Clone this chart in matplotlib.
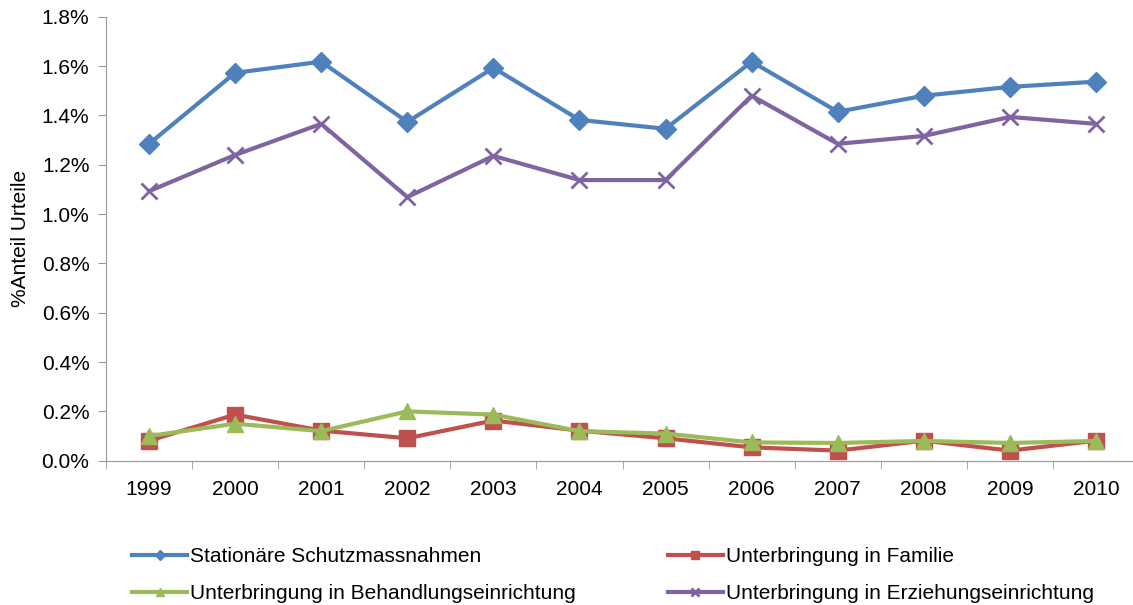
import numpy as np
import matplotlib.pyplot as plt
from matplotlib.ticker import FuncFormatter, MultipleLocator, FixedLocator

plt.rcParams['font.family'] = ['Liberation Sans', 'DejaVu Sans']

years = ['1999', '2000', '2001', '2002', '2003', '2004',
         '2005', '2006', '2007', '2008', '2009', '2010']

# Anteil Urteile in %
stationaer = [1.285, 1.573, 1.618, 1.374, 1.593, 1.382, 1.346, 1.618, 1.415, 1.480, 1.516, 1.537]
familie = [0.081, 0.187, 0.122, 0.091, 0.163, 0.122, 0.091, 0.054, 0.041, 0.081, 0.041, 0.081]
behandlung = [0.100, 0.150, 0.120, 0.200, 0.187, 0.120, 0.110, 0.074, 0.072, 0.080, 0.072, 0.080]
erziehung = [1.093, 1.240, 1.366, 1.069, 1.236, 1.138, 1.138, 1.480, 1.285, 1.317, 1.394, 1.366]

labels = ['Stationäre Schutzmassnahmen', 'Unterbringung in Familie',
          'Unterbringung in Behandlungseinrichtung', 'Unterbringung in Erziehungseinrichtung']

fig = plt.figure(figsize=(11.33, 6.05), dpi=100)
ax = fig.add_axes([0.0936, 0.2385, 0.9117, 0.7337])

x = np.arange(len(years))
h1, = ax.plot(x, stationaer, color='#4F81BD', lw=3, marker='D', ms=10, label=labels[0])
h2, = ax.plot(x, familie, color='#C0504D', lw=3, marker='s', ms=11, label=labels[1])
h3, = ax.plot(x, behandlung, color='#9BBB59', lw=3, marker='^', ms=12, label=labels[2])
h4, = ax.plot(x, erziehung, color='#8064A2', lw=3, marker='x', ms=12, mew=2, label=labels[3])

ax.set_xlim(-0.5, len(years) - 0.5)
ax.set_ylim(0, 1.8)
ax.yaxis.set_major_locator(MultipleLocator(0.2))
ax.yaxis.set_major_formatter(FuncFormatter(lambda v, p: f'{v:.1f}%'))
ax.set_xticks(x)
ax.set_xticklabels(years)
ax.xaxis.set_minor_locator(FixedLocator(np.arange(-0.5, len(years), 1.0)))
ax.tick_params(axis='x', which='major', length=0, labelsize=15, pad=14)
ax.tick_params(axis='x', which='minor', length=6, color='#999999', direction='out')
ax.tick_params(axis='y', length=6, color='#999999', labelsize=15, pad=6)
ax.set_ylabel('%Anteil Urteile', fontsize=15, labelpad=8)

for side in ['top', 'right']:
    ax.spines[side].set_visible(False)
for side in ['left', 'bottom']:
    ax.spines[side].set_color('#999999')

# Excel legend: row-wise order
fig.legend(handles=[h1, h3, h2, h4], loc='lower left', bbox_to_anchor=(0.100, -0.028),
           ncol=2, frameon=False, fontsize=15, handlelength=2.65, markerscale=0.5,
           columnspacing=4.4, handletextpad=0.15, labelspacing=0.85)

fig.savefig('out.png', dpi=100)
